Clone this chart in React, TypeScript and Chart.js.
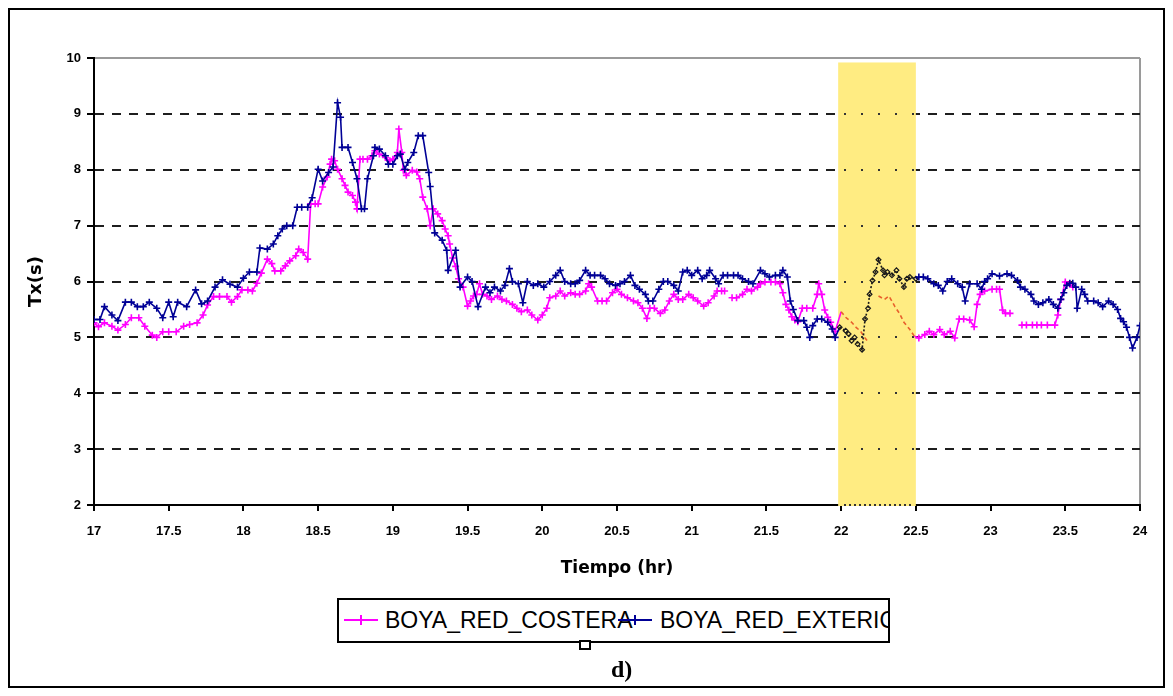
import React, { useEffect, useRef } from "react";
import { Chart, registerables } from "chart.js";

Chart.register(...registerables);

// ---- data ----
const seriesNames = ["BOYA_RED_COSTERA", "BOYA_RED_EXTERIOR"];
const xTickValues = [17, 17.5, 18, 18.5, 19, 19.5, 20, 20.5, 21, 21.5, 22, 22.5, 23, 23.5, 24];
const yTickValues = [2, 3, 4, 5, 6, 7, 8, 9, 10];
const xTitle = "Tiempo (hr)";
const yTitle = "Tx(s)";
const panelLabel = "d)";
const highlightStart = 21.98;
const highlightEnd = 22.5;
const highlightTop = 9.92;

const costera: [number, number | null][] = [
  [17.0, 5.26], [17.03, 5.19], [17.07, 5.26], [17.12, 5.2], [17.16, 5.13], [17.21, 5.23], [17.25, 5.35], [17.3, 5.35],
  [17.34, 5.2], [17.39, 5.04], [17.42, 5.0], [17.46, 5.1], [17.5, 5.1], [17.55, 5.1], [17.6, 5.2], [17.64, 5.23],
  [17.69, 5.26], [17.73, 5.4], [17.76, 5.58], [17.8, 5.73], [17.84, 5.73], [17.89, 5.73], [17.92, 5.63], [17.96, 5.73],
  [17.99, 5.85], [18.03, 5.85], [18.06, 5.83], [18.09, 5.97], [18.12, 6.15], [18.16, 6.4], [18.19, 6.32], [18.21, 6.19],
  [18.25, 6.19], [18.28, 6.28], [18.31, 6.37], [18.35, 6.46], [18.37, 6.58], [18.4, 6.52], [18.43, 6.4], [18.45, 7.39],
  [18.48, 7.39], [18.5, 7.39], [18.53, 7.69], [18.56, 7.87], [18.58, 8.1], [18.59, 8.19], [18.61, 8.16], [18.63, 8.01],
  [18.66, 7.84], [18.68, 7.72], [18.7, 7.6], [18.73, 7.54], [18.75, 7.42], [18.76, 7.3], [18.78, 8.19], [18.8, 8.19],
  [18.83, 8.19], [18.86, 8.25], [18.88, 8.34], [18.91, 8.28], [18.95, 8.22], [18.98, 8.16], [19.0, 8.19], [19.03, 8.31],
  [19.04, 8.73], [19.06, 8.31], [19.07, 7.99], [19.09, 7.9], [19.13, 7.99], [19.16, 7.96], [19.18, 7.84], [19.2, 7.51],
  [19.23, 7.3], [19.25, 7.0], [19.27, 7.3], [19.3, 7.21], [19.33, 7.09], [19.35, 6.94], [19.37, 6.82], [19.38, 6.67],
  [19.4, 6.42], [19.42, 6.27], [19.44, 6.05], [19.47, 5.9], [19.5, 5.56], [19.52, 5.65], [19.54, 5.74], [19.56, 5.77],
  [19.58, 5.96], [19.6, 5.77], [19.63, 5.74], [19.66, 5.68], [19.7, 5.74], [19.73, 5.68], [19.76, 5.65], [19.8, 5.59],
  [19.83, 5.52], [19.86, 5.46], [19.9, 5.49], [19.93, 5.4], [19.97, 5.31], [20.0, 5.4], [20.03, 5.52], [20.05, 5.71],
  [20.09, 5.74], [20.12, 5.83], [20.15, 5.74], [20.19, 5.8], [20.22, 5.77], [20.25, 5.77], [20.29, 5.83], [20.31, 5.96],
  [20.33, 5.9], [20.37, 5.65], [20.4, 5.65], [20.43, 5.65], [20.47, 5.8], [20.5, 5.86], [20.53, 5.77], [20.57, 5.71],
  [20.61, 5.65], [20.64, 5.62], [20.67, 5.52], [20.7, 5.34], [20.72, 5.52], [20.75, 5.52], [20.79, 5.43], [20.82, 5.49],
  [20.85, 5.65], [20.88, 5.77], [20.91, 5.68], [20.94, 5.68], [20.98, 5.77], [21.01, 5.71], [21.04, 5.65], [21.08, 5.56],
  [21.11, 5.62], [21.15, 5.74], [21.17, 5.83], [21.2, 5.83], [21.22, 5.83], [21.245, null], [21.27, 5.71], [21.3, 5.71],
  [21.34, 5.77], [21.37, 5.86], [21.4, 5.83], [21.44, 5.9], [21.46, 5.96], [21.49, 5.99], [21.53, 5.99], [21.56, 5.99],
  [21.59, 5.96], [21.61, 5.8], [21.63, 5.59], [21.65, 5.49], [21.67, 5.37], [21.69, 5.31], [21.71, 5.28], [21.74, 5.52],
  [21.77, 5.52], [21.81, 5.52], [21.84, 5.77], [21.85, 5.96], [21.87, 5.77], [21.89, 5.49], [21.91, 5.36], [21.93, 5.27],
  [21.96, 5.11], [22.0, 5.46], [22.03, 5.36], [22.07, 5.27], [22.1, 5.18], [22.13, 5.11], [22.16, 4.99], [22.18, 4.92],
  [22.21, null], [22.25, 5.74], [22.29, 5.68], [22.32, 5.74], [22.36, 5.55], [22.39, 5.43], [22.42, 5.27], [22.46, 5.14],
  [22.49, 5.02], [22.52, 4.99], [22.56, 5.05], [22.59, 5.11], [22.62, 5.05], [22.66, 5.14], [22.69, 5.05], [22.73, 5.11],
  [22.76, 4.99], [22.79, 5.33], [22.82, 5.33], [22.86, 5.31], [22.89, 5.19], [22.91, 5.59], [22.93, 5.77], [22.96, 5.83],
  [23.01, 5.86], [23.04, 5.86], [23.06, 5.86], [23.08, 5.49], [23.1, 5.43], [23.13, 5.43], [23.17, null], [23.21, 5.22],
  [23.24, 5.22], [23.28, 5.22], [23.31, 5.22], [23.34, 5.22], [23.38, 5.22], [23.43, 5.22], [23.45, 5.4], [23.47, 5.68],
  [23.5, 5.99], [23.53, 5.96], [23.55, 5.9],
];

const exterior: [number, number | null][] = [
  [17.0, 5.32], [17.04, 5.32], [17.07, 5.55], [17.12, 5.4], [17.16, 5.3], [17.21, 5.63], [17.25, 5.63], [17.29, 5.55],
  [17.33, 5.55], [17.37, 5.63], [17.42, 5.52], [17.46, 5.35], [17.5, 5.63], [17.53, 5.37], [17.56, 5.63], [17.62, 5.55],
  [17.68, 5.85], [17.72, 5.6], [17.76, 5.65], [17.81, 5.9], [17.86, 6.03], [17.91, 5.95], [17.96, 5.9], [18.0, 6.06],
  [18.04, 6.17], [18.09, 6.17], [18.11, 6.6], [18.16, 6.58], [18.2, 6.67], [18.23, 6.82], [18.26, 6.94], [18.29, 7.0],
  [18.33, 7.0], [18.36, 7.33], [18.39, 7.33], [18.43, 7.33], [18.46, 7.5], [18.5, 8.01], [18.53, 7.8], [18.57, 7.95],
  [18.6, 8.05], [18.63, 9.2], [18.65, 8.94], [18.66, 8.4], [18.7, 8.4], [18.73, 8.13], [18.76, 7.84], [18.79, 7.3],
  [18.81, 7.3], [18.83, 7.84], [18.87, 8.25], [18.88, 8.4], [18.91, 8.37], [18.95, 8.25], [18.97, 8.1], [19.0, 8.1],
  [19.03, 8.25], [19.05, 8.28], [19.08, 8.01], [19.1, 8.13], [19.14, 8.31], [19.17, 8.61], [19.2, 8.61], [19.24, 7.95],
  [19.25, 7.7], [19.28, 6.87], [19.33, 6.74], [19.36, 6.56], [19.37, 6.2], [19.42, 6.56], [19.45, 5.9], [19.5, 6.08],
  [19.53, 6.0], [19.57, 5.55], [19.62, 5.9], [19.65, 5.8], [19.68, 5.9], [19.72, 5.83], [19.75, 5.93], [19.78, 6.23],
  [19.8, 6.0], [19.84, 5.96], [19.87, 5.62], [19.9, 6.0], [19.94, 5.93], [19.97, 5.96], [20.01, 5.9], [20.05, 6.0],
  [20.09, 6.11], [20.12, 6.2], [20.15, 6.0], [20.19, 5.96], [20.22, 5.96], [20.25, 6.02], [20.29, 6.2], [20.32, 6.11],
  [20.35, 6.11], [20.39, 6.11], [20.42, 6.05], [20.45, 5.96], [20.49, 5.93], [20.52, 5.96], [20.55, 6.0], [20.59, 6.11],
  [20.62, 5.93], [20.65, 5.86], [20.69, 5.77], [20.71, 5.65], [20.74, 5.65], [20.78, 5.86], [20.81, 6.0], [20.84, 6.0],
  [20.88, 5.93], [20.91, 5.83], [20.94, 6.17], [20.97, 6.2], [21.0, 6.11], [21.04, 6.2], [21.07, 6.05], [21.1, 6.11],
  [21.12, 6.2], [21.16, 6.05], [21.18, 5.96], [21.21, 6.11], [21.24, 6.11], [21.28, 6.11], [21.31, 6.11], [21.34, 6.05],
  [21.38, 6.0], [21.41, 5.96], [21.46, 6.2], [21.49, 6.14], [21.52, 6.08], [21.56, 6.11], [21.59, 6.11], [21.61, 6.2],
  [21.64, 6.08], [21.66, 5.65], [21.68, 5.5], [21.71, 5.3], [21.75, 5.3], [21.77, 5.18], [21.79, 5.0], [21.81, 5.21],
  [21.84, 5.33], [21.87, 5.33], [21.91, 5.27], [21.94, 5.15], [21.96, 5.0], [21.99, 5.18], [22.03, 5.12], [22.05, 5.06],
  [22.07, 4.94], [22.09, 5.0], [22.11, 4.88], [22.14, 4.78], [22.16, 5.33], [22.18, 5.52], [22.19, 5.77], [22.21, 6.02],
  [22.23, 6.17], [22.25, 6.39], [22.28, 6.2], [22.29, 6.11], [22.31, 6.17], [22.34, 6.11], [22.37, 6.2], [22.39, 6.05],
  [22.42, 5.9], [22.44, 6.05], [22.46, 6.08], [22.5, 6.05], [22.52, 6.08], [22.55, 6.08], [22.58, 6.05], [22.62, 5.96],
  [22.65, 5.93], [22.68, 5.83], [22.71, 6.0], [22.74, 6.05], [22.78, 5.96], [22.81, 5.9], [22.83, 5.65], [22.86, 5.96],
  [22.91, 5.96], [22.94, 5.86], [22.96, 6.0], [22.98, 6.05], [23.01, 6.14], [23.06, 6.1], [23.11, 6.14], [23.14, 6.11],
  [23.18, 6.02], [23.2, 5.9], [23.23, 5.86], [23.27, 5.77], [23.29, 5.65], [23.32, 5.59], [23.35, 5.62], [23.39, 5.68],
  [23.42, 5.59], [23.45, 5.52], [23.47, 5.68], [23.49, 5.8], [23.51, 5.93], [23.53, 5.97], [23.55, 5.97], [23.57, 5.9],
  [23.58, 5.52], [23.61, 5.86], [23.63, 5.77], [23.65, 5.65], [23.69, 5.65], [23.72, 5.62], [23.75, 5.55], [23.79, 5.65],
  [23.82, 5.59], [23.85, 5.5], [23.87, 5.34], [23.89, 5.28], [23.91, 5.18], [23.93, 5.0], [23.95, 4.81], [23.98, 5.0],
  [24.0, 5.21],
];

const MAGENTA = "#FF00FF";
const NAVY = "#000096";
const BAND_BLUE = "#1a1a1a";
const BAND_MAGENTA = "#E8602C";

const inBand = (x: number | undefined) =>
  typeof x === "number" && x >= highlightStart && x <= highlightEnd + 0.001;

const bandPlugin = {
  id: "highlightBand",
  beforeDatasetsDraw(chart: any) {
    const { ctx, scales } = chart;
    const xs = scales.x;
    const ys = scales.y;
    const l = xs.getPixelForValue(highlightStart);
    const r = xs.getPixelForValue(highlightEnd);
    const t = ys.getPixelForValue(highlightTop);
    const b = ys.getPixelForValue(yTickValues[0]);
    ctx.save();
    ctx.fillStyle = "#FFEC82";
    ctx.fillRect(l, t, r - l, b - t + 1);
    ctx.fillStyle = "#333";
    for (const v of yTickValues) {
      if (v >= yTickValues[yTickValues.length - 1]) continue;
      const py = Math.round(ys.getPixelForValue(v));
      const step = v === yTickValues[0] ? 5 : 17;
      for (let px = l + 6; px < r - 2; px += step) ctx.fillRect(Math.round(px), py - 1, 2, 2);
    }
    ctx.restore();
  },
};

const toPoints = (arr: [number, number | null][]) => arr.map(([x, y]) => ({ x, y }));

export default function App() {
  const canvasRef = useRef<HTMLCanvasElement | null>(null);

  useEffect(() => {
    if (!canvasRef.current) return;
    const tickFont = { family: "'Liberation Sans', Arial, sans-serif", weight: "bold" as const, size: 13 };
    const chart = new Chart(canvasRef.current, {
      type: "line",
      data: {
        datasets: [
          {
            label: seriesNames[0],
            data: toPoints(costera) as any,
            borderColor: MAGENTA,
            backgroundColor: MAGENTA,
            borderWidth: 1.6,
            tension: 0,
            spanGaps: false,
            order: 1,
            pointStyle: "cross",
            pointRadius: (c: any) => (inBand(c.parsed?.x) ? 0 : 3.5),
            pointBorderColor: MAGENTA,
            pointBorderWidth: 1.6,
            segment: {
              borderColor: (c: any) => (inBand(c.p0.parsed.x) && inBand(c.p1.parsed.x) ? BAND_MAGENTA : undefined),
              borderDash: (c: any) => (inBand(c.p0.parsed.x) && inBand(c.p1.parsed.x) ? [4, 3] : undefined),
            },
          },
          {
            label: seriesNames[1],
            data: toPoints(exterior) as any,
            borderColor: NAVY,
            backgroundColor: NAVY,
            borderWidth: 1.6,
            tension: 0,
            spanGaps: false,
            order: 0,
            pointStyle: (c: any) => (inBand(c.parsed?.x) ? "rectRot" : "cross"),
            pointRadius: (c: any) => (inBand(c.parsed?.x) ? 2.4 : 3.5),
            pointBorderColor: (c: any) => (inBand(c.parsed?.x) ? BAND_BLUE : NAVY),
            pointBackgroundColor: (c: any) => (inBand(c.parsed?.x) ? "rgba(0,0,0,0)" : NAVY),
            pointBorderWidth: (c: any) => (inBand(c.parsed?.x) ? 1.2 : 1.6),
            segment: {
              borderColor: (c: any) => (inBand(c.p0.parsed.x) && inBand(c.p1.parsed.x) ? BAND_BLUE : undefined),
              borderDash: (c: any) => (inBand(c.p0.parsed.x) && inBand(c.p1.parsed.x) ? [2, 2] : undefined),
            },
          },
        ],
      },
      options: {
        responsive: false,
        animation: false,
        devicePixelRatio: 1,
        layout: { padding: { left: 0, top: 48, right: 23, bottom: 91 } },
        plugins: { legend: { display: false }, tooltip: { enabled: false } },
        scales: {
          x: {
            type: "linear",
            min: xTickValues[0],
            max: xTickValues[xTickValues.length - 1],
            afterBuildTicks: (s: any) => {
              s.ticks = xTickValues.map((v) => ({ value: v }));
            },
            afterFit: (s: any) => {
              s.height = 90;
            },
            ticks: {
              callback: (v: any) => String(v),
              font: tickFont,
              color: "#000",
              padding: 13,
              maxRotation: 0,
              autoSkip: false,
            },
            grid: {
              drawOnChartArea: true,
              color: (c: any) =>
                c.tick && c.tick.value === xTickValues[xTickValues.length - 1] ? "#9a9a9a" : "rgba(0,0,0,0)",
              lineWidth: 2,
              tickLength: 6,
              tickColor: "#000",
              tickWidth: 2,
              tickBorderDash: [],
            } as any,
            border: { display: true, color: "#000", width: 2, dash: [] },
            title: {
              display: true,
              text: xTitle,
              color: "#000",
              font: { family: "'DejaVu Sans', sans-serif", weight: "bold", size: 17 },
              padding: { top: 0, bottom: 16 },
            },
          },
          y: {
            type: "linear",
            min: yTickValues[0],
            max: yTickValues[yTickValues.length - 1],
            afterBuildTicks: (s: any) => {
              s.ticks = yTickValues.map((v) => ({ value: v }));
            },
            afterFit: (s: any) => {
              s.width = 84;
            },
            ticks: { font: tickFont, color: "#000", padding: 6 },
            grid: {
              color: (c: any) =>
                c.tick && c.tick.value === yTickValues[yTickValues.length - 1] ? "#9a9a9a" : "#1e1e1e",
              lineWidth: 2,
              tickLength: 7,
              tickColor: "#000",
              tickWidth: 2,
              tickBorderDash: [],
            } as any,
            border: {
              display: true,
              color: "#000",
              width: 2,
              dash: (c: any) =>
                c.tick && c.tick.value === yTickValues[yTickValues.length - 1] ? [] : [9, 8],
            } as any,
            title: {
              display: true,
              text: yTitle,
              color: "#000",
              font: { family: "'DejaVu Sans', sans-serif", weight: "bold", size: 18 },
              padding: { top: 16, bottom: 0 },
            },
          },
        },
      },
      plugins: [bandPlugin],
    });
    return () => chart.destroy();
  }, []);

  const legendLine = (color: string) => (
    <svg width="34" height="14" style={{ display: "block" }}>
      <line x1="0" y1="7" x2="34" y2="7" stroke={color} strokeWidth="2" />
      <line x1="17" y1="2" x2="17" y2="12" stroke={color} strokeWidth="2" />
    </svg>
  );

  return (
    <div
      style={{
        position: "relative",
        width: 1157,
        height: 680,
        border: "2px solid #000",
        boxSizing: "border-box",
        background: "#fff",
      }}
    >
      <canvas ref={canvasRef} width={1153} height={676} style={{ display: "block", width: 1153, height: 676 }} />
      <div
        style={{
          position: "absolute",
          left: 327,
          top: 588,
          width: 553,
          height: 45,
          border: "2px solid #000",
          boxSizing: "border-box",
          overflow: "hidden",
          background: "#fff",
          whiteSpace: "nowrap",
          fontFamily: "'Liberation Sans', Arial, sans-serif",
          fontSize: 23,
          color: "#000",
        }}
      >
        <span style={{ position: "absolute", left: 46, top: 0, lineHeight: "41px" }}>{seriesNames[0]}</span>
        <div style={{ position: "absolute", left: 5, top: 13 }}>{legendLine(MAGENTA)}</div>
        <span style={{ position: "absolute", left: 321, top: 0, lineHeight: "41px" }}>{seriesNames[1]}</span>
        <div style={{ position: "absolute", left: 279, top: 13 }}>{legendLine(NAVY)}</div>
      </div>
      <div
        style={{
          position: "absolute",
          left: 569,
          top: 630,
          width: 12,
          height: 10,
          border: "2px solid #000",
          boxSizing: "border-box",
          background: "#fff",
        }}
      />
      <div
        style={{
          position: "absolute",
          left: 601,
          top: 647,
          fontFamily: "'Liberation Serif', 'Times New Roman', serif",
          fontWeight: "bold",
          fontSize: 24,
          lineHeight: "24px",
          color: "#000",
        }}
      >
        {panelLabel}
      </div>
    </div>
  );
}
